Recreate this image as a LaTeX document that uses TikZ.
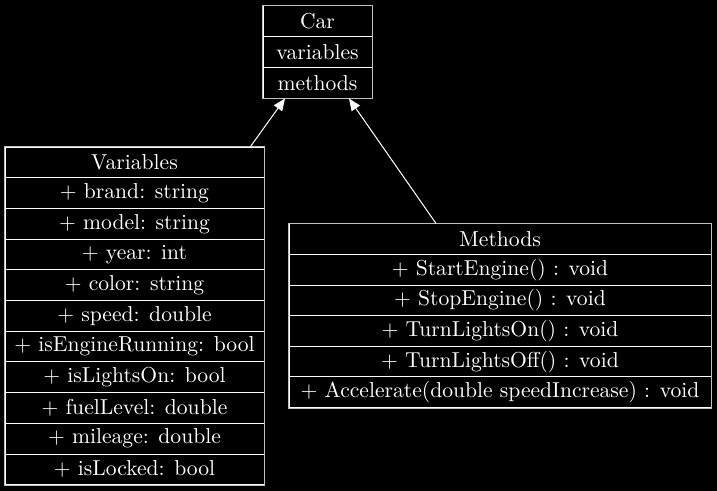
\documentclass[tikz,border=0pt]{standalone}
\usepackage{xcolor}
\usepackage{tikz}
\usetikzlibrary{arrows.meta,positioning}
\definecolor{rim}{HTML}{C0C0C0}

\begin{document}
\begin{tikzpicture}[
    x=0.5pt, y=-0.5pt,
    row/.style={draw=white, line width=0.5pt, fill=black, text=white,
                minimum height=15.35pt, inner sep=0pt,
                font=\fontsize{10.8}{12}\selectfont},
    carrow/.style={row, minimum width=54.5pt},
    varrow/.style={row, minimum width=129.5pt},
    metrow/.style={row, minimum width=211pt},
    rimline/.style={draw=rim, line width=0.6pt},
    arr/.style={-{Triangle[length=6pt, width=5pt]}, draw=white, fill=white,
                line width=0.5pt},
  ]
    \fill[black] (0,0) rectangle (717,491);
    \useasboundingbox (0,0) rectangle (717,491);

    % Car
    \node[carrow] (c1) at (317.5, 21.3) {Car};
    \node[carrow] (c2) at (317.5, 52.0) {variables};
    \node[carrow] (c3) at (317.5, 82.7) {methods};
    \draw[rimline] (c1.north west) rectangle (c3.south east);

    % Variables
    \node[varrow] (v1)  at (134.5, 162.4) {Variables};
    \node[varrow] (v2)  at (134.5, 193.1) {+ brand: string};
    \node[varrow] (v3)  at (134.5, 223.8) {+ model: string};
    \node[varrow] (v4)  at (134.5, 254.5) {+ year: int};
    \node[varrow] (v5)  at (134.5, 285.2) {+ color: string};
    \node[varrow] (v6)  at (134.5, 315.9) {+ speed: double};
    \node[varrow] (v7)  at (134.5, 346.6) {+ isEngineRunning: bool};
    \node[varrow] (v8)  at (134.5, 377.3) {+ isLightsOn: bool};
    \node[varrow] (v9)  at (134.5, 408.0) {+ fuelLevel: double};
    \node[varrow] (v10) at (134.5, 438.7) {+ mileage: double};
    \node[varrow] (v11) at (134.5, 469.4) {+ isLocked: bool};
    \draw[rimline] (v1.north west) rectangle (v11.south east);

    % Methods
    \node[metrow] (m1) at (500, 239.3) {Methods};
    \node[metrow] (m2) at (500, 269.9) {+ StartEngine() : void};
    \node[metrow] (m3) at (500, 300.5) {+ StopEngine() : void};
    \node[metrow] (m4) at (500, 331.1) {+ TurnLightsOn() : void};
    \node[metrow] (m5) at (500, 361.7) {+ TurnLightsOff() : void};
    \node[metrow] (m6) at (500, 392.3) {+ Accelerate(double speedIncrease) : void};
    \draw[rimline] (m1.north west) rectangle (m6.south east);

    \draw[arr] ([xshift=-7pt]v1.north east) -- ([xshift=-16.25pt]c3.south);
    \draw[arr] ([xshift=-32pt]m1.north) -- ([xshift=15.75pt]c3.south);
  \end{tikzpicture}
\end{document}
